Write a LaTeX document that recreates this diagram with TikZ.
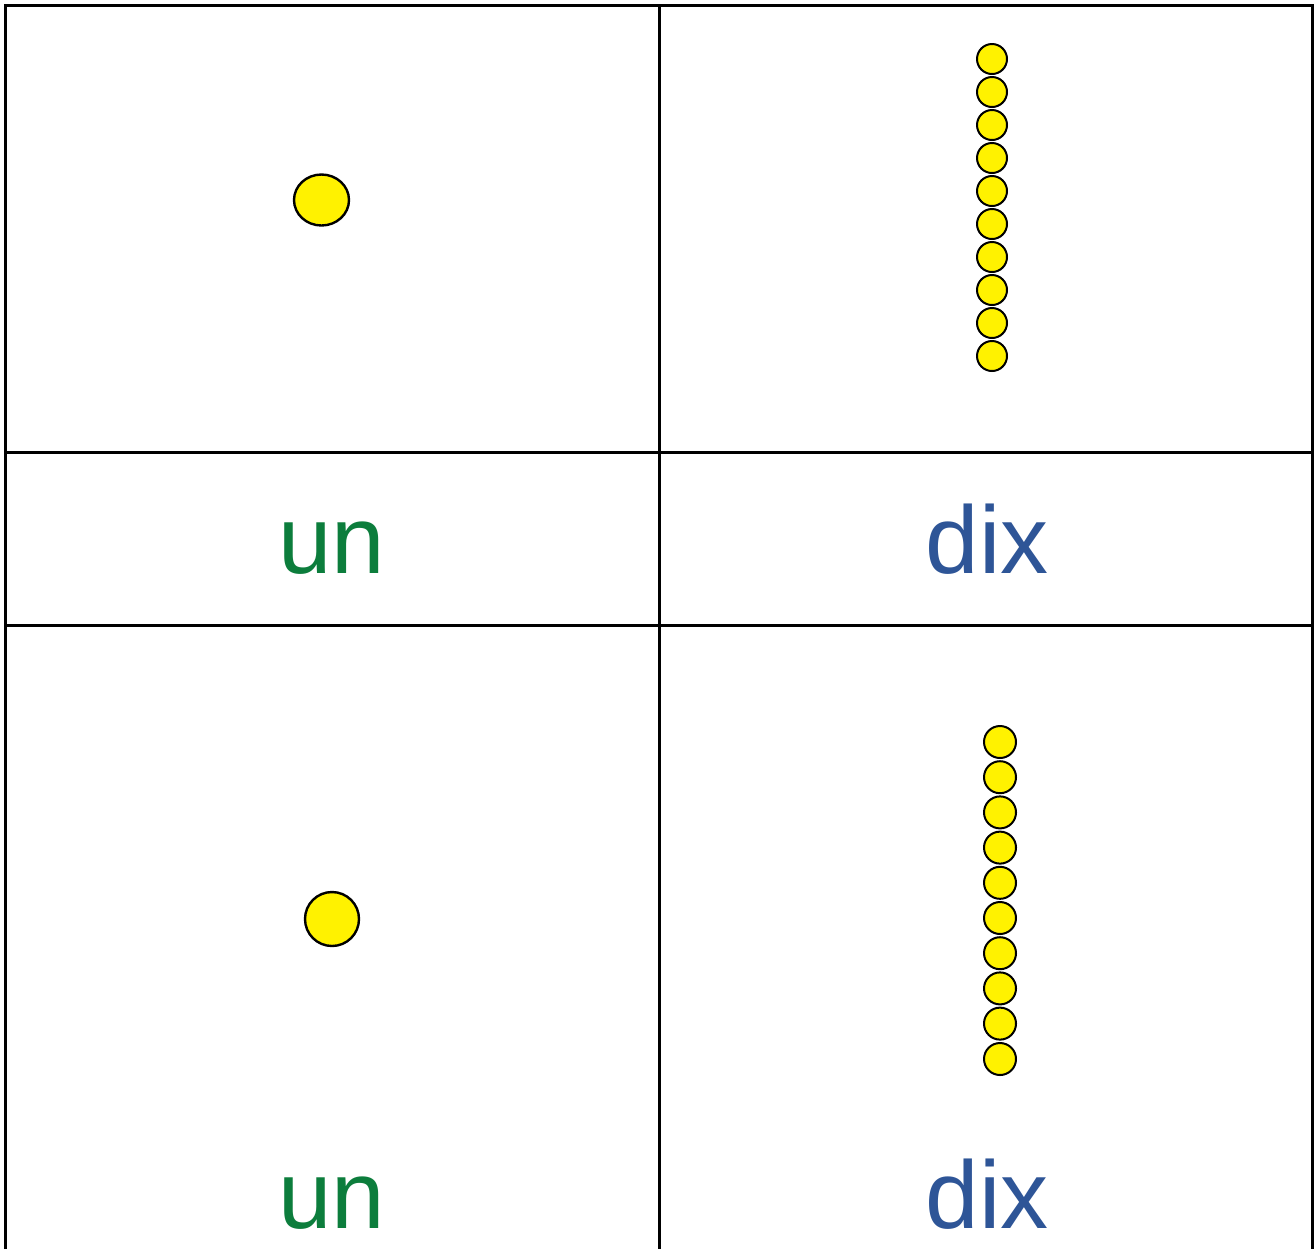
\documentclass[tikz,border=0pt]{standalone}
\usepackage{fontspec}
\setmainfont{Liberation Sans}
\definecolor{ungreen}{HTML}{0C7D3C}
\definecolor{dixblue}{HTML}{2E5597}
\begin{document}
\begin{tikzpicture}[x=0.5pt,y=-0.5pt,
	grid/.style={line width=1.5pt,black},
	bead/.style={draw=black,line width=1pt,fill=yellow},
	word/.style={anchor=base,inner sep=0pt,font=\fontsize{48}{58}\selectfont}]
		\useasboundingbox (0,0) rectangle (1316,1249);
		
		\draw[grid] (5,1249) -- (5,5) -- (1312,5) -- (1312,1249);
		\draw[grid] (659.5,5) -- (659.5,1249);
		\draw[grid] (5,452) -- (1312,452);
		\draw[grid] (5,625.5) -- (1312,625.5);
		
		\draw[bead,line width=1.2pt] (321.5,200) ellipse [x radius=13.75pt,y radius=12.75pt];
		\draw[bead,line width=1.2pt] (332,919) circle (13.5pt);
		
		\draw[bead] (992,59) circle (7.5pt);
		\draw[bead] (992,92) circle (7.5pt);
		\draw[bead] (992,125) circle (7.5pt);
		\draw[bead] (992,158) circle (7.5pt);
		\draw[bead] (992,191) circle (7.5pt);
		\draw[bead] (992,224) circle (7.5pt);
		\draw[bead] (992,257) circle (7.5pt);
		\draw[bead] (992,290) circle (7.5pt);
		\draw[bead] (992,323) circle (7.5pt);
		\draw[bead] (992,356) circle (7.5pt);
		
		\draw[bead] (1000,742) circle (8pt);
		\draw[bead] (1000,777.2) circle (8pt);
		\draw[bead] (1000,812.4) circle (8pt);
		\draw[bead] (1000,847.6) circle (8pt);
		\draw[bead] (1000,882.8) circle (8pt);
		\draw[bead] (1000,918) circle (8pt);
		\draw[bead] (1000,953.2) circle (8pt);
		\draw[bead] (1000,988.4) circle (8pt);
		\draw[bead] (1000,1023.6) circle (8pt);
		\draw[bead] (1000,1059) circle (8pt);
		
		\node[word,text=ungreen] at (332,573) (un1) {un};
		\node[word,text=dixblue] at (987,573) (dix1) {dix};
		\node[word,text=ungreen] at (332,1228) (un2) {un};
		\node[word,text=dixblue] at (987,1228) (dix2) {dix};
\end{tikzpicture}
\end{document}
